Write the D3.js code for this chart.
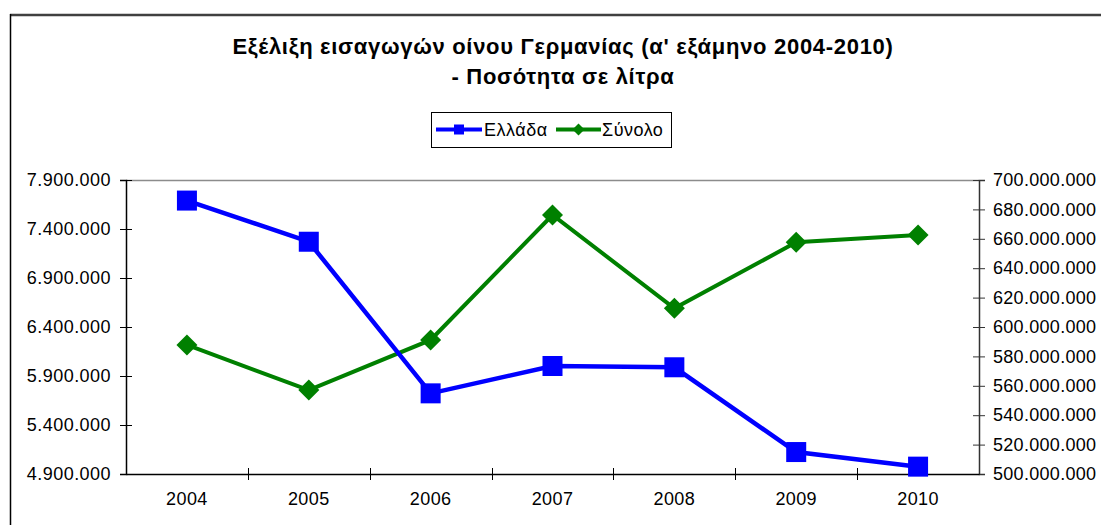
<!DOCTYPE html>
<html lang="el">
<head>
    <meta charset="UTF-8">
    <script src="https://d3js.org/d3.v7.min.js"></script>
    <style>
        body { margin: 0; background: white; }
        text { font-family: Arial, "Liberation Sans", sans-serif; }
    </style>
</head>
<body>
    <svg id="chart" width="1101" height="525"></svg>
    <script>
        // Δεδομένα (ανάγνωση από το γράφημα)
        const years = ["2004", "2005", "2006", "2007", "2008", "2009", "2010"];
        const ellada = [7690000, 7270000, 5723000, 6002000, 5989000, 5124000, 4975000];
        const synolo = [587800000, 557100000, 591200000, 676200000, 612700000, 657600000, 662600000];
        const leftTicks = [4900000, 5400000, 5900000, 6400000, 6900000, 7400000, 7900000];
        const rightTicks = [500000000, 520000000, 540000000, 560000000, 580000000, 600000000,
                            620000000, 640000000, 660000000, 680000000, 700000000];
        const seriesNames = ["Ελλάδα", "Σύνολο"];
        const titleLines = ["Εξέλιξη εισαγωγών οίνου Γερμανίας (α' εξάμηνο 2004-2010)", "- Ποσότητα σε λίτρα"];

        const width = 1101, height = 525;
        const margin = { top: 180, right: 122, bottom: 51, left: 126 };
        const svg = d3.select("#chart");

        const fmt = d3.formatLocale({ decimal: ",", thousands: ".", grouping: [3], currency: ["", "€"] }).format(",");

        // πλαίσιο γραφήματος
        svg.append("line").attr("x1", 10).attr("x2", width).attr("y1", 15).attr("y2", 15)
            .attr("stroke", "#404040").attr("stroke-width", 2.5);
        svg.append("line").attr("x1", 10.5).attr("x2", 10.5).attr("y1", 14).attr("y2", height)
            .attr("stroke", "#000").attr("stroke-width", 1.5);

        // τίτλος
        const title = svg.append("text")
            .attr("text-anchor", "middle")
            .style("font-size", "22px")
            .style("letter-spacing", "0.7px")
            .style("font-weight", "bold");
        titleLines.forEach((t, i) => {
            title.append("tspan").attr("x", 563).attr("y", 54 + i * 30).text(t);
        });

        const x = d3.scaleBand()
            .domain(years)
            .range([margin.left, width - margin.right])
            .padding(0);

        const yL = d3.scaleLinear()
            .domain([leftTicks[0], leftTicks[leftTicks.length - 1]])
            .range([height - margin.bottom, margin.top]);

        const yR = d3.scaleLinear()
            .domain([rightTicks[0], rightTicks[rightTicks.length - 1]])
            .range([height - margin.bottom, margin.top]);

        const bottom = height - margin.bottom;
        const right = width - margin.right;

        // πάνω όριο περιοχής
        svg.append("line").attr("x1", margin.left).attr("x2", right)
            .attr("y1", margin.top + 0.5).attr("y2", margin.top + 0.5)
            .attr("stroke", "#8c8c8c").attr("stroke-width", 1.5);

        // αριστερός άξονας
        const gL = svg.append("g")
            .attr("transform", `translate(${margin.left},0)`)
            .call(d3.axisLeft(yL).tickValues(leftTicks).tickFormat(fmt).tickSize(6).tickPadding(9));
        gL.select(".domain").attr("stroke", "#000").attr("stroke-width", 1.5);
        gL.selectAll(".tick line").attr("x1", 6).attr("x2", -6).attr("stroke", "#000");
        gL.selectAll("text").style("font-size", "18px").style("letter-spacing", "0.45px").attr("fill", "#000");

        // δεξιός άξονας
        const gR = svg.append("g")
            .attr("transform", `translate(${right},0)`)
            .call(d3.axisRight(yR).tickValues(rightTicks).tickFormat(fmt).tickSize(6).tickPadding(8));
        gR.select(".domain").attr("stroke", "#333").attr("stroke-width", 1.5);
        gR.selectAll(".tick line").attr("x1", -6).attr("x2", 6).attr("stroke", "#333");
        gR.selectAll("text").style("font-size", "18px").style("letter-spacing", "0.3px").attr("fill", "#000");

        // άξονας κατηγοριών
        const gX = svg.append("g")
            .attr("transform", `translate(0,${bottom})`)
            .call(d3.axisBottom(x).tickSize(0).tickPadding(18));
        gX.select(".domain").attr("stroke", "#000").attr("stroke-width", 1.5);
        gX.selectAll("text").style("font-size", "18px").style("letter-spacing", "0.4px").attr("fill", "#000");
        gX.selectAll(".tick-b")
            .data(years.slice(1))
            .enter().append("line")
            .attr("x1", d => Math.round(x(d)) + 0.5)
            .attr("x2", d => Math.round(x(d)) + 0.5)
            .attr("y1", -6).attr("y2", 6)
            .attr("stroke", "#000");

        const cx = d => x(d) + x.bandwidth() / 2;

        // Σύνολο (δεξιός άξονας)
        const synoloData = years.map((y, i) => ({ year: y, v: synolo[i] }));
        svg.append("path")
            .datum(synoloData)
            .attr("fill", "none")
            .attr("stroke", "#008000")
            .attr("stroke-width", 4)
            .attr("d", d3.line().x(d => cx(d.year)).y(d => yR(d.v)));
        svg.selectAll(".diamond")
            .data(synoloData)
            .enter().append("path")
            .attr("class", "diamond")
            .attr("transform", d => `translate(${cx(d.year)},${yR(d.v)})`)
            .attr("d", "M0,-10.5L10.5,0L0,10.5L-10.5,0Z")
            .attr("fill", "#008000");

        // Ελλάδα (αριστερός άξονας)
        const elladaData = years.map((y, i) => ({ year: y, v: ellada[i] }));
        svg.append("path")
            .datum(elladaData)
            .attr("fill", "none")
            .attr("stroke", "#0000ff")
            .attr("stroke-width", 4.5)
            .attr("d", d3.line().x(d => cx(d.year)).y(d => yL(d.v)));
        svg.selectAll(".square")
            .data(elladaData)
            .enter().append("rect")
            .attr("class", "square")
            .attr("x", d => cx(d.year) - 10)
            .attr("y", d => yL(d.v) - 10)
            .attr("width", 20)
            .attr("height", 20)
            .attr("fill", "#0000ff");

        // υπόμνημα
        const legend = svg.append("g");
        legend.append("rect")
            .attr("x", 431.5).attr("y", 112.5).attr("width", 240).attr("height", 35)
            .attr("fill", "white").attr("stroke", "#000");
        const ly = 129.5;
        legend.append("line").attr("x1", 436).attr("x2", 482).attr("y1", ly).attr("y2", ly)
            .attr("stroke", "#0000ff").attr("stroke-width", 4);
        legend.append("rect").attr("x", 454).attr("y", ly - 5).attr("width", 10).attr("height", 10)
            .attr("fill", "#0000ff");
        legend.append("text").attr("x", 484).attr("y", ly + 6.5).style("font-size", "18px")
            .style("letter-spacing", "0.5px").text(seriesNames[0]);
        legend.append("line").attr("x1", 556).attr("x2", 601).attr("y1", ly).attr("y2", ly)
            .attr("stroke", "#008000").attr("stroke-width", 4);
        legend.append("path").attr("transform", `translate(578.5,${ly})`)
            .attr("d", "M0,-6L6,0L0,6L-6,0Z").attr("fill", "#008000");
        legend.append("text").attr("x", 602).attr("y", ly + 6.5).style("font-size", "18px")
            .style("letter-spacing", "0.5px").text(seriesNames[1]);
    </script>
</body>
</html>
